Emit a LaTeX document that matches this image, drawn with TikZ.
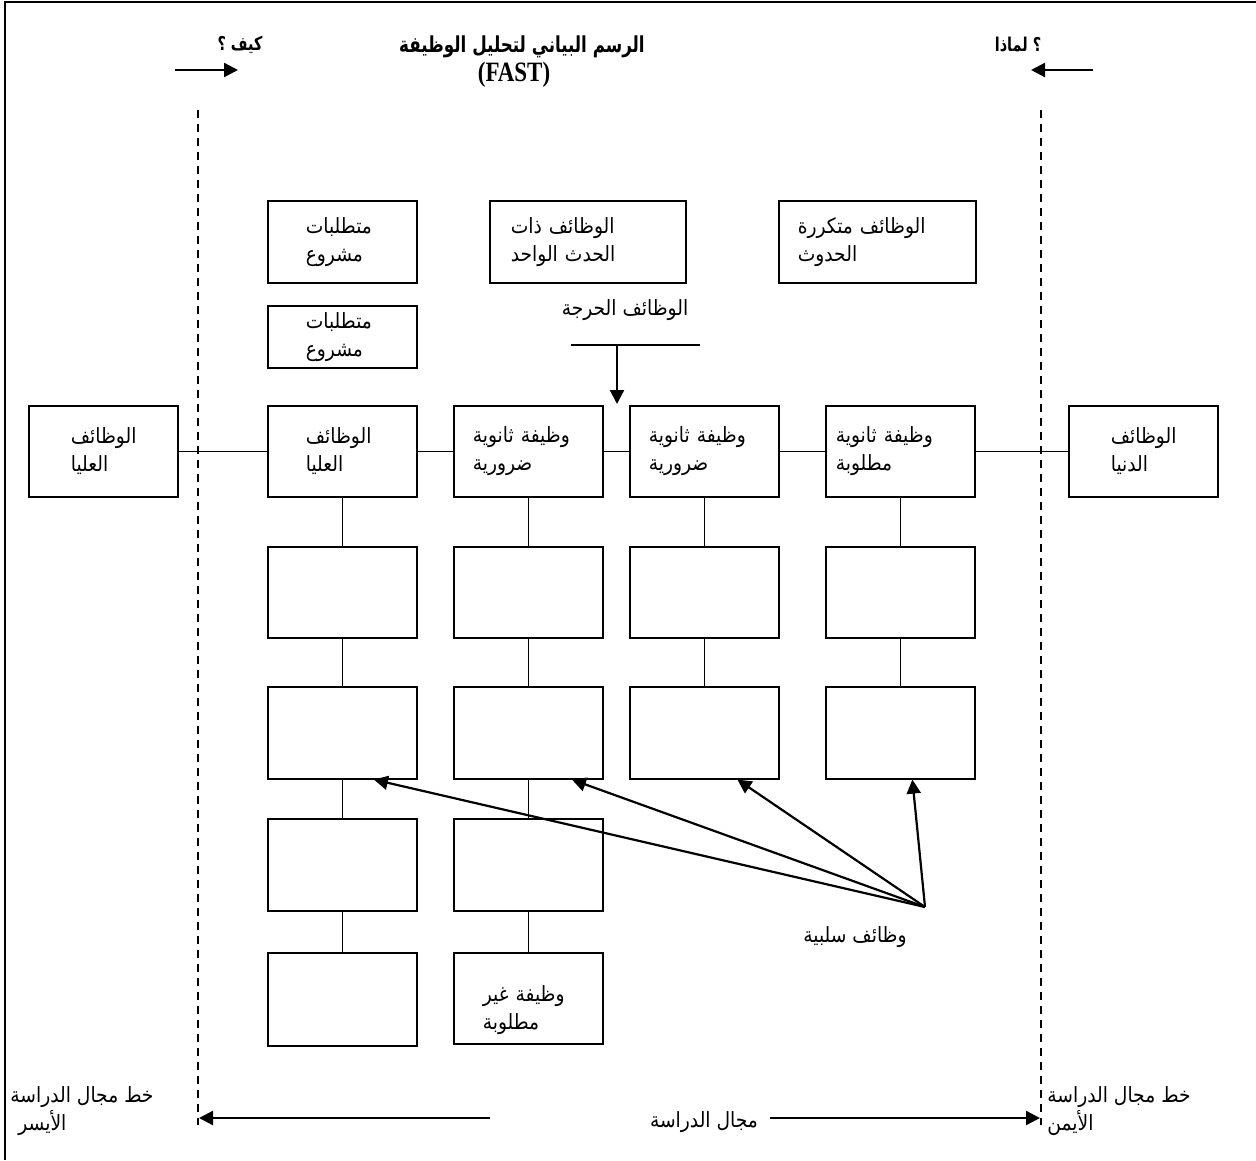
\documentclass[tikz,border=0pt]{standalone}
\usepackage{fontspec}
\usetikzlibrary{arrows.meta,calc}
\TeXXeTstate=1
\newfontfamily\arabicfont[Script=Arabic, FakeStretch=0.89]{DejaVu Sans}
\newfontfamily\headfont[Script=Arabic, FakeStretch=0.76]{DejaVu Sans}
\newfontfamily\fastfont[FakeStretch=0.82]{Liberation Serif}
\newcommand\rtl[1]{\mbox{\beginR #1\endR}}

\begin{document}
\begin{tikzpicture}[x=0.5pt,y=-0.5pt,
  box/.style={draw, line width=0.8pt, anchor=north west, align=left,
    minimum width=74.5pt, minimum height=45.5pt, inner ysep=0pt,
    font=\arabicfont\fontsize{10.5}{14}\selectfont},
  conn/.style={line width=0.6pt},
  arr/.style={line width=1.1pt, -{Triangle[length=7pt,width=7pt]}},
  scopeline/.style={line width=0.6pt, dash pattern=on 4pt off 3pt},
  lbl/.style={font=\arabicfont\fontsize{10.5}{14}\selectfont, align=left, inner sep=0pt}
]
\useasboundingbox (0,0) rectangle (1256,1160);
% outer frame
\draw[line width=0.8pt] (5,1160) -- (5,2) -- (1256,2);

% title
\node[font=\headfont\bfseries\fontsize{11}{14}\selectfont, inner sep=0pt] (title) at (522,47) {\rtl{الرسم البياني لتحليل الوظيفة}};
\node[font=\fastfont\bfseries\fontsize{14}{16}\selectfont, inner sep=0pt] (fast) at (514,75) {(FAST)};

% how / why
\node[font=\headfont\bfseries\fontsize{9.5}{11}\selectfont, inner sep=0pt] (how) at (240,45) {\rtl{كيف ؟}};
\node[font=\headfont\bfseries\fontsize{9.5}{11}\selectfont, inner sep=0pt] (why) at (1018,45) {\rtl{لماذا} ؟};
\coordinate (howA) at (175,70); \coordinate (howB) at (238,70);
\coordinate (whyA) at (1093,70); \coordinate (whyB) at (1031,70);
\draw[arr] (howA) -- (howB);
\draw[arr] (whyA) -- (whyB);

% scope lines
\coordinate (lsT) at (198,110); \coordinate (lsB) at (198,1125);
\coordinate (rsT) at (1041,110); \coordinate (rsB) at (1041,1125);
\draw[scopeline] (lsT) -- (lsB);
\draw[scopeline] (rsT) -- (rsB);

% top boxes
\node[box, minimum height=41pt, inner xsep=19pt, text width=36.5pt] (req1) at (267,200) {\rtl{متطلبات}\\\rtl{مشروع}};
\node[box, minimum width=98pt, minimum height=41pt, inner xsep=10.5pt, text width=77pt] (once) at (489,200) {\rtl{الوظائف ذات}\\\rtl{الحدث الواحد}};
\node[box, minimum width=98.5pt, minimum height=41pt, inner xsep=9.5pt, text width=79.5pt] (often) at (778,200) {\rtl{الوظائف متكررة}\\\rtl{الحدوث}};
\node[box, minimum height=31pt, inner xsep=19pt, text width=36.5pt] (req2) at (267,305) {\rtl{متطلبات}\\\rtl{مشروع}};

% main function row
\node[box, inner xsep=21pt, text width=32.5pt] (M0) at (28,405) {\rtl{الوظائف}\\\rtl{العليا}};
\node[box, inner xsep=19pt, text width=36.5pt] (M1) at (267,405) {\rtl{الوظائف}\\\rtl{العليا}};
\node[box, inner xsep=9.5pt, text width=55.5pt] (M2) at (453,405) {\rtl{وظيفة ثانوية}\\\rtl{ضرورية}};
\node[box, inner xsep=9.5pt, text width=55.5pt] (M3) at (629,405) {\rtl{وظيفة ثانوية}\\\rtl{ضرورية}};
\node[box, inner xsep=5pt, text width=64.5pt] (M4) at (825,405) {\rtl{وظيفة ثانوية}\\\rtl{مطلوبة}};
\node[box, inner xsep=21pt, text width=32.5pt] (M5) at (1068,405) {\rtl{الوظائف}\\\rtl{الدنيا}};

\draw[conn] (M0.east) -- (M1.west);
\draw[conn] (M1.east) -- (M2.west);
\draw[conn] (M2.east) -- (M3.west);
\draw[conn] (M3.east) -- (M4.west);
\draw[conn] (M4.east) -- (M5.west);

% column boxes
\node[box] (c1r1) at (267,546) {};
\node[box, minimum height=46pt] (c1r2) at (267,686) {};
\node[box, minimum height=46pt] (c1r3) at (267,818) {};
\node[box, minimum height=46.5pt] (c1r4) at (267,952) {};
\node[box] (c2r1) at (453,546) {};
\node[box, minimum height=46pt] (c2r2) at (453,686) {};
\node[box, minimum height=46pt] (c2r3) at (453,818) {};
\node[box, inner xsep=14.5pt, text width=45.5pt] (c2r4) at (453,952) {\rule{0pt}{20pt}\rtl{وظيفة غير}\\\rtl{مطلوبة}};
\node[box] (c3r1) at (629,546) {};
\node[box, minimum height=46pt] (c3r2) at (629,686) {};
\node[box] (c4r1) at (825,546) {};
\node[box, minimum height=46pt] (c4r2) at (825,686) {};

\draw[conn] (M1.south) -- (c1r1.north);
\draw[conn] (c1r1.south) -- (c1r2.north);
\draw[conn] (c1r2.south) -- (c1r3.north);
\draw[conn] (c1r3.south) -- (c1r4.north);
\draw[conn] (M2.south) -- (c2r1.north);
\draw[conn] (c2r1.south) -- (c2r2.north);
\draw[conn] (c2r2.south) -- (c2r3.north);
\draw[conn] (c2r3.south) -- (c2r4.north);
\draw[conn] (M3.south) -- (c3r1.north);
\draw[conn] (c3r1.south) -- (c3r2.north);
\draw[conn] (M4.south) -- (c4r1.north);
\draw[conn] (c4r1.south) -- (c4r2.north);

% critical functions
\node[lbl] (crit) at (625,310) {\rtl{الوظائف الحرجة}};
\coordinate (critL) at (571,345); \coordinate (critR) at (700,345);
\coordinate (critTop) at (617,345); \coordinate (critTip) at (617,404);
\draw[line width=0.8pt] (critL) -- (critR);
\draw[arr] (critTop) -- (critTip);

% negative functions
\node[lbl] (neg) at (855,937) {\rtl{وظائف سلبية}};
\coordinate (negO) at (925,907);
\draw[arr] (negO) -- ($(c1r2.south west)!0.71!(c1r2.south east)$);
\draw[arr] (negO) -- ($(c2r2.south west)!0.79!(c2r2.south east)$);
\draw[arr] (negO) -- ($(c3r2.south west)!0.72!(c3r2.south east)$);
\draw[arr] (negO) -- ($(c4r2.south west)!0.58!(c4r2.south east)$);

% study scope
\node[lbl] (study) at (704,1122) {\rtl{مجال الدراسة}};
\coordinate (stL0) at (490,1118); \coordinate (stL1) at (199,1118);
\coordinate (stR0) at (770,1118); \coordinate (stR1) at (1040,1118);
\draw[arr] (stL0) -- (stL1);
\draw[arr] (stR0) -- (stR1);
\node[lbl, anchor=north west] (leftline) at (10,1086) {\rtl{خط مجال الدراسة}\\\hspace*{4pt}\rtl{الأيسر}};
\node[lbl, anchor=north west] (rightline) at (1047,1086) {\rtl{خط مجال الدراسة}\\\rtl{الأيمن}};
\end{tikzpicture}
\end{document}
